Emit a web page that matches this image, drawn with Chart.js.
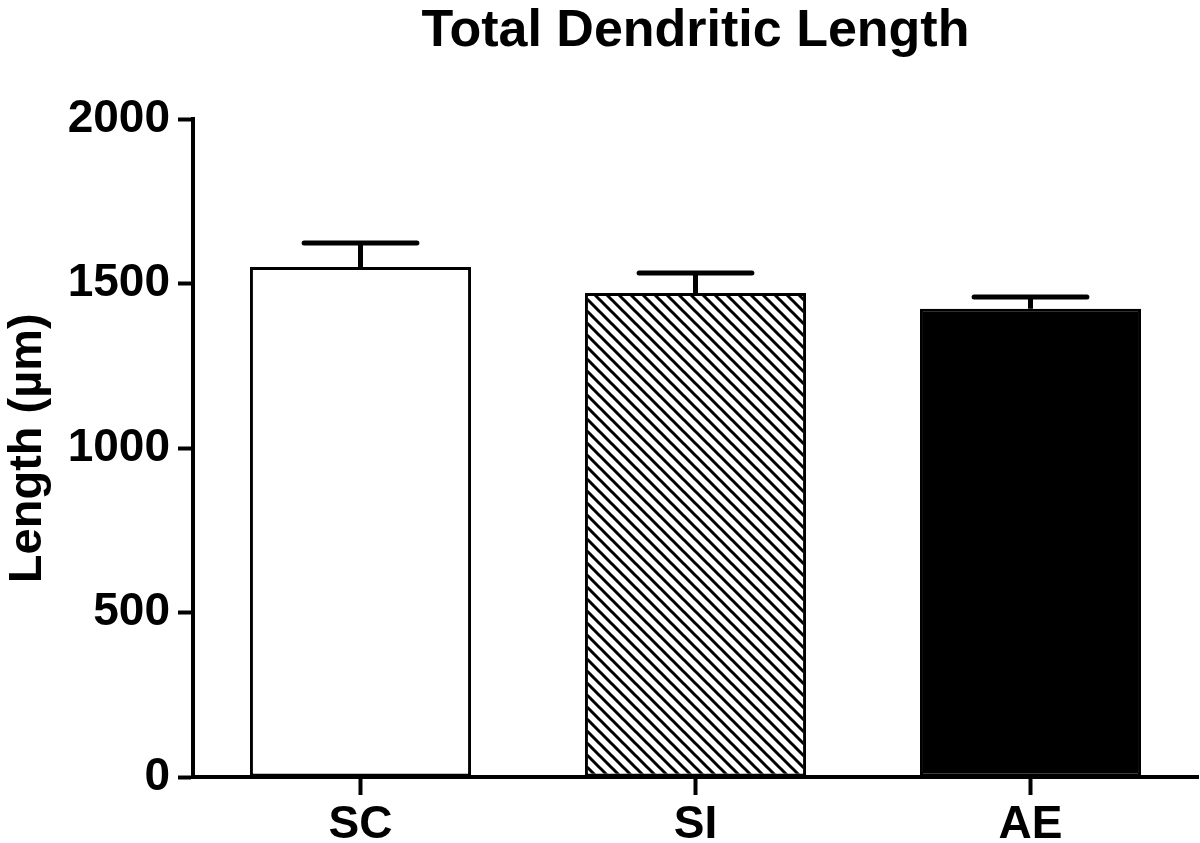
<!DOCTYPE html>
<html>
<head>
<meta charset="utf-8">
<script src="https://cdn.jsdelivr.net/npm/chart.js@4"></script>
<style>
  html, body { margin: 0; padding: 0; background: #fff; }
  #wrap { width: 1200px; height: 843px; }
</style>
</head>
<body>
<div id="wrap"><canvas id="chart" width="1200" height="843"></canvas></div>
<script>
const groups = ['SC', 'SI', 'AE'];
const meanLength = [1551, 1472, 1424];
const semLength = [73, 61, 36];
const yTicks = [0, 500, 1000, 1500, 2000];

const FONT = '"Liberation Sans", Arial, sans-serif';

// diagonal hatch for the SI bar
function hatch() {
  const n = 12;
  const c = document.createElement('canvas');
  c.width = n; c.height = n;
  const g = c.getContext('2d');
  g.fillStyle = '#fff';
  g.fillRect(0, 0, n, n);
  g.strokeStyle = '#000';
  g.lineWidth = 3;
  g.beginPath();
  g.moveTo(-n, -n); g.lineTo(2 * n, 2 * n);
  g.moveTo(-n, 0); g.lineTo(n, 2 * n);
  g.moveTo(0, -n); g.lineTo(2 * n, n);
  g.stroke();
  return g.createPattern(c, 'repeat');
}

const ctx = document.getElementById('chart').getContext('2d');

// upper-only error bars with a cap, like the reference
const errorBars = {
  id: 'errorBars',
  afterDatasetsDraw(chart) {
    const meta = chart.getDatasetMeta(0);
    const y = chart.scales.y;
    const c = chart.ctx;
    c.save();
    c.strokeStyle = '#000';
    c.lineWidth = 5;
    meta.data.forEach((bar, i) => {
      const top = y.getPixelForValue(meanLength[i] + semLength[i]);
      const half = bar.width * 0.255;
      c.lineCap = 'butt';
      c.beginPath();
      c.moveTo(bar.x, bar.y);
      c.lineTo(bar.x, top);
      c.stroke();
      c.lineCap = 'round';
      c.beginPath();
      c.moveTo(bar.x - half, top);
      c.lineTo(bar.x + half, top);
      c.stroke();
    });
    c.restore();
  }
};

new Chart(ctx, {
  type: 'bar',
  data: {
    labels: groups,
    datasets: [{
      data: meanLength,
      backgroundColor: ['#ffffff', hatch(), '#000000'],
      borderColor: '#000',
      borderWidth: 3,
      borderSkipped: false,
      barPercentage: 0.66,
      categoryPercentage: 1
    }]
  },
  options: {
    responsive: false,
    animation: false,
    layout: { padding: { left: 0, right: 2, top: 0, bottom: 0 } },
    plugins: {
      legend: { display: false },
      tooltip: { enabled: false },
      title: {
        display: true,
        fullSize: false,
        text: 'Total Dendritic Length',
        color: '#000',
        font: { family: FONT, size: 52, weight: 'bold' },
        padding: { top: 0, bottom: 57 }
      }
    },
    scales: {
      x: {
        grid: {
          offset: false,
          drawOnChartArea: false,
          drawTicks: true,
          tickLength: 18,
          tickWidth: 4,
          tickColor: '#000'
        },
        border: { display: true, color: '#000', width: 4 },
        ticks: {
          color: '#000',
          padding: 3,
          font: { family: FONT, size: 46, weight: 'bold' }
        },
        afterFit: s => { s.height = 66; }
      },
      y: {
        min: 0,
        max: 2000,
        afterBuildTicks: s => { s.ticks = yTicks.map(v => ({ value: v })); },
        grid: {
          drawOnChartArea: false,
          drawTicks: true,
          tickLength: 15,
          tickWidth: 4,
          tickColor: '#000'
        },
        border: { display: true, color: '#000', width: 4 },
        ticks: {
          color: '#000',
          padding: 8,
          callback: v => String(v),
          font: { family: FONT, size: 46, weight: 'bold' }
        },
        title: {
          display: true,
          text: 'Length (µm)',
          color: '#000',
          padding: 0,
          font: { family: FONT, size: 47, weight: 'bold' }
        },
        afterFit: s => { s.width = 193; }
      }
    }
  },
  plugins: [errorBars]
});
</script>
</body>
</html>
